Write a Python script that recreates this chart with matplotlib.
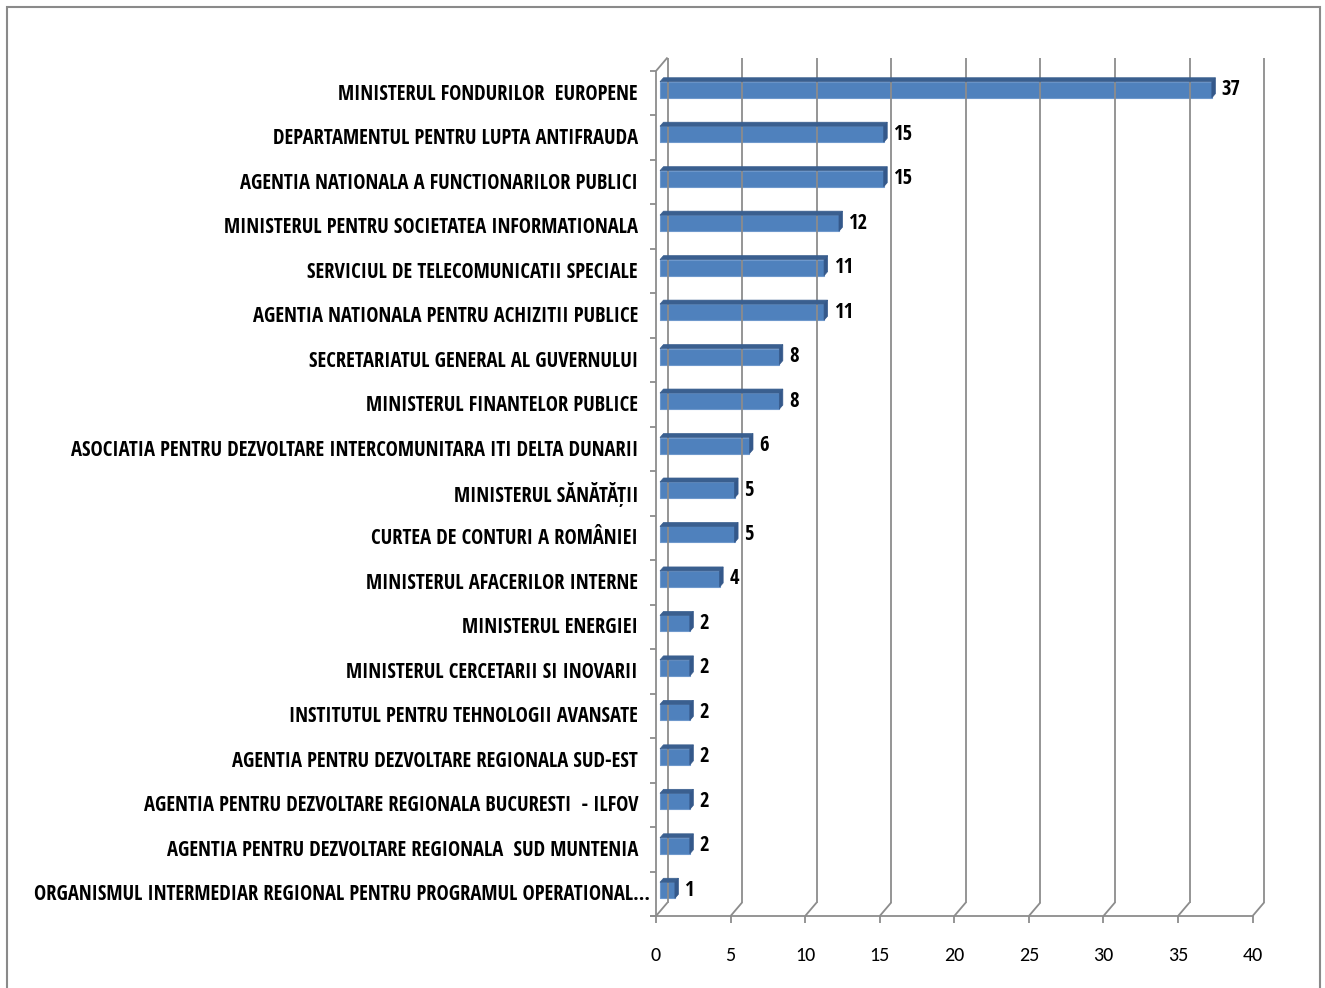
import matplotlib
matplotlib.use("Agg")
import matplotlib.pyplot as plt
from matplotlib import font_manager
from matplotlib.patches import Polygon, Rectangle
from matplotlib.lines import Line2D
from matplotlib.transforms import ScaledTranslation, IdentityTransform
import numpy as np

categories = [
    "MINISTERUL FONDURILOR  EUROPENE",
    "DEPARTAMENTUL PENTRU LUPTA ANTIFRAUDA",
    "AGENTIA NATIONALA A FUNCTIONARILOR PUBLICI",
    "MINISTERUL PENTRU SOCIETATEA INFORMATIONALA",
    "SERVICIUL DE TELECOMUNICATII SPECIALE",
    "AGENTIA NATIONALA PENTRU ACHIZITII PUBLICE",
    "SECRETARIATUL GENERAL AL GUVERNULUI",
    "MINISTERUL FINANTELOR PUBLICE",
    "ASOCIATIA PENTRU DEZVOLTARE INTERCOMUNITARA ITI DELTA DUNARII",
    "MINISTERUL SĂNĂTĂȚII",
    "CURTEA DE CONTURI A ROMÂNIEI",
    "MINISTERUL AFACERILOR INTERNE",
    "MINISTERUL ENERGIEI",
    "MINISTERUL CERCETARII SI INOVARII",
    "INSTITUTUL PENTRU TEHNOLOGII AVANSATE",
    "AGENTIA PENTRU DEZVOLTARE REGIONALA SUD-EST",
    "AGENTIA PENTRU DEZVOLTARE REGIONALA BUCURESTI  - ILFOV",
    "AGENTIA PENTRU DEZVOLTARE REGIONALA  SUD MUNTENIA",
    "ORGANISMUL INTERMEDIAR REGIONAL PENTRU PROGRAMUL OPERATIONAL...",
]
values = [37, 15, 15, 12, 11, 11, 8, 8, 6, 5, 5, 4, 2, 2, 2, 2, 2, 2, 1]
x_ticks = [0, 5, 10, 15, 20, 25, 30, 35, 40]

names = {f.name for f in font_manager.fontManager.ttflist}
if "Open Sans Condensed" in names:
    BOLD = dict(family=["Open Sans Condensed", "DejaVu Sans"], fontweight="bold", fontsize=14.85)
elif "Carlito" in names:
    BOLD = dict(family=["Carlito", "DejaVu Sans"], fontweight="bold", fontsize=13.5)
else:
    BOLD = dict(family=["DejaVu Sans"], fontweight="bold", fontsize=11)
if "Carlito" in names:
    TICK = dict(family=["Carlito", "DejaVu Sans"], fontsize=14.5)
else:
    TICK = dict(family=["DejaVu Sans"], fontsize=12)

W, H = 1325, 988
DPI = 100
fig = plt.figure(figsize=(W / DPI, H / DPI), dpi=DPI)
n = len(values)
ax = fig.add_axes([656 / W, (H - 916) / H, (1252.6 - 656) / W, (916 - 71) / H])
ax.set_xlim(0, 40)
ax.set_ylim(n - 0.5, -0.5)
ax.axis("off")

DEPTH = np.array([11.5, 13.5])
FRONT = np.array([4.0, 3.5])
BACK = np.array([7.5, 7.5])
GRID = "#8c8c8c"
ID = IdentityTransform()


def off(px):
    return ax.transData + ScaledTranslation(px[0] / DPI, px[1] / DPI, fig.dpi_scale_trans)


def disp(x, y, o=(0, 0)):
    return ax.transData.transform((x, y)) + np.asarray(o, dtype=float)


def seg(p, q, color=GRID, lw=1.3):
    fig.add_artist(Line2D([p[0], q[0]], [p[1], q[1]], transform=ID,
                          color=color, lw=lw, solid_capstyle="butt"))


ybot, ytop = n - 0.5, -0.5
for k in x_ticks:
    seg(disp(k, ybot, DEPTH), disp(k, ytop, DEPTH))
    seg(disp(k, ybot), disp(k, ybot, DEPTH))
    seg(disp(k, ybot), disp(k, ybot, (0, -7)))
seg(disp(0, ybot, (-6, 0)), disp(40, ybot))
seg(disp(0, ybot), disp(0, ytop))
seg(disp(0, ytop), disp(0, ytop, DEPTH))
for b in np.arange(-0.5, n, 1.0):
    seg(disp(0, b, (-6, 0)), disp(0, b))

ypos = np.arange(n)
bh = 0.36
ax.barh(ypos, values, height=bh, color="#4F81BD", edgecolor="#6E98CC",
        linewidth=0.8, transform=off(FRONT), clip_on=False, zorder=3)
for i, v in enumerate(values):
    top = i - bh / 2
    bot = i + bh / 2
    tface = [disp(0, top, FRONT), disp(v, top, FRONT), disp(v, top, BACK), disp(0, top, BACK)]
    rface = [disp(v, bot, FRONT), disp(v, top, FRONT), disp(v, top, BACK), disp(v, bot, BACK)]
    fig.add_artist(Polygon(tface, closed=True, transform=ID, facecolor="#3A5F8F",
                           edgecolor="#3A5F8F", lw=0.5, zorder=4))
    fig.add_artist(Polygon(rface, closed=True, transform=ID, facecolor="#34588A",
                           edgecolor="#34588A", lw=0.5, zorder=4))
    ax.text(v, i, str(v), transform=off(BACK + np.array([6.0, -4.0])),
            ha="left", va="center", color="black", clip_on=False, **BOLD)
    xo = -6 if i == n - 1 else -18
    ax.text(0, i, categories[i], transform=off((xo, -1)),
            ha="right", va="center", color="black", clip_on=False, **BOLD)

for k in x_ticks:
    ax.text(k, ybot, str(k), transform=off((0, -39)), ha="center", va="center",
            color="black", clip_on=False, **TICK)

fig.add_artist(Rectangle((7, -5), 1313, 986, transform=ID, fill=False,
                         edgecolor="#8a8a8a", lw=1.5))

fig.savefig("out.png", dpi=DPI, facecolor="white")
